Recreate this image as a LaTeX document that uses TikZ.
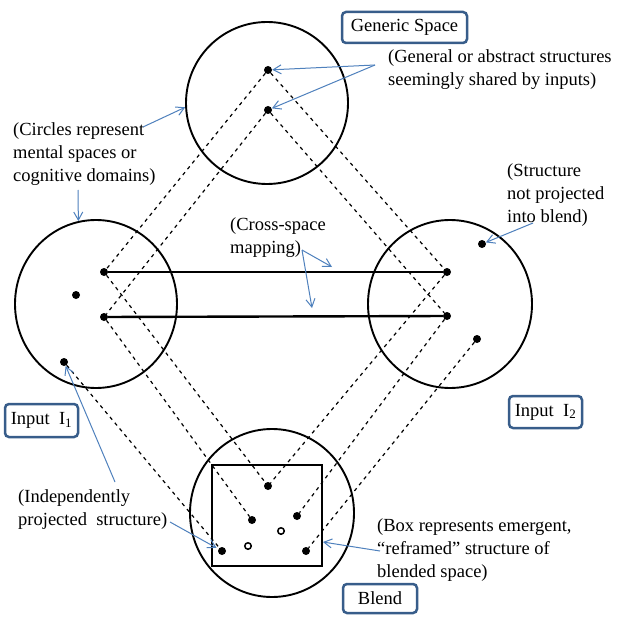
\documentclass[tikz,border=0pt]{standalone}
\usepackage{fontspec}
\setmainfont{Liberation Serif}
\usetikzlibrary{shapes.geometric,arrows.meta}
\definecolor{arrowblue}{RGB}{79,129,189}
\definecolor{boxblue}{RGB}{56,93,138}
\begin{document}
\begin{tikzpicture}[x=1pt,y=-1pt,
  space/.style={draw,ellipse,line width=1.9pt,inner sep=0pt},
  dot/.style={circle,fill,inner sep=0pt,minimum size=8pt},
  odot/.style={circle,draw,line width=1.5pt,fill=white,inner sep=0pt,minimum size=6.5pt},
  proj/.style={dash pattern=on 3.5pt off 4pt,line width=1.2pt},
  map/.style={line width=2.4pt},
  note/.style={font=\fontsize{18.5}{23}\selectfont,align=left,anchor=base west,inner sep=0pt},
  tagbox/.style={draw=boxblue,line width=2.5pt,rounded corners=4pt,font=\fontsize{18.5}{22}\selectfont,inner sep=0pt},
  pointer/.style={draw=arrowblue,line width=1pt,-{Straight Barb[length=8pt,width=9pt]}}
]
\useasboundingbox[fill=white] (0,0) rectangle (617,617);

% spaces
\node[space,minimum width=162pt,minimum height=162pt] (gen) at (267,103) {};
\node[space,minimum width=162pt,minimum height=168pt] (inp1) at (96,304) {};
\node[space,minimum width=164pt,minimum height=168pt] (inp2) at (450,304) {};
\node[space,minimum width=164pt,minimum height=168pt] (bl) at (272,513) {};
\node[draw,line width=1.9pt,minimum width=110pt,minimum height=101pt,inner sep=0pt] (box) at (267,515.5) {};

% dots
\node[dot] (g1) at (268,70) {};
\node[dot] (g2) at (268,110) {};
\node[dot] (l1) at (104,272) {};
\node[dot] (l2) at (76,295) {};
\node[dot] (l3) at (104,317) {};
\node[dot] (l4) at (64,362) {};
\node[dot] (r1) at (447,272) {};
\node[dot] (r2) at (447,316) {};
\node[dot] (r3) at (482,244) {};
\node[dot] (r4) at (477,339) {};
\node[dot] (b1) at (268,486) {};
\node[dot] (b2) at (252,520) {};
\node[dot] (b3) at (297,516) {};
\node[odot] (o1) at (281,531) {};
\node[odot] (o2) at (248,546) {};
\node[dot] (b4) at (222,551) {};
\node[dot] (b5) at (306,551) {};

% projections
\draw[proj] (g1) -- (l1);
\draw[proj] (g1) -- (r1);
\draw[proj] (g2) -- (l3);
\draw[proj] (g2) -- (r2);
\draw[proj] (l1) -- (b1);
\draw[proj] (l3) -- (b2);
\draw[proj] (l4) -- (b4);
\draw[proj] (r1) -- (b1);
\draw[proj] (r2) -- (b3);
\draw[proj] (r4) -- (b5);

% cross-space mapping
\draw[map] (l1) -- (r1);
\draw[map] (l3) -- (r2);

% labels
\node[tagbox,minimum width=125pt,minimum height=31pt] (tgen) at (404.5,27.5) {Generic Space};
\node[tagbox,minimum width=73pt,minimum height=33pt] (tin1) at (41.5,420.5) {Input\ \ I\textsubscript{1}};
\node[tagbox,minimum width=73pt,minimum height=32pt] (tin2) at (545.5,412) {Input\ \ I\textsubscript{2}};
\node[tagbox,minimum width=74pt,minimum height=29pt] (tbl) at (380,598.5) {Blend};

% notes (anchor = baseline of last line)
\node[note] (ngen) at (388,86) {(General or abstract structures\\seemingly shared by inputs)};
\node[note] (ncirc) at (13,182) {(Circles represent\\mental spaces or\\cognitive domains)};
\node[note] (nstr) at (507,223) {(Structure\\not projected\\into blend)};
\node[note] (ncross) at (230,253) {(Cross-space\\mapping)};
\node[note] (nind) at (18,525) {(Independently\\projected\ \ structure)};
\node[note] (nbox) at (377,577) {(Box represents emergent,\\“reframed” structure of\\blended space)};

% pointers
\coordinate (pgen) at (375,65);
\draw[pointer] (pgen) -- (g1);
\draw[pointer] (pgen) -- (g2);
\coordinate (pcirc1) at (143,127);
\draw[pointer] (pcirc1) -- (gen.183);
\coordinate (pcirc2) at (78,190);
\draw[pointer] (pcirc2) -- (inp1.102);
\coordinate (pstr) at (533,223);
\draw[pointer] (pstr) -- (r3);
\coordinate (pcross) at (302,250);
\coordinate (tc1) at (332,267);
\coordinate (tc2) at (312,308);
\draw[pointer] (pcross) -- (tc1);
\draw[pointer] (pcross) -- (tc2);
\coordinate (pind1) at (115,482);
\draw[pointer] (pind1) -- (l4);
\coordinate (pind2) at (170,522);
\draw[pointer,shorten >=2pt] (pind2) -- (b4);
\coordinate (pbox) at (380,551);
\draw[pointer] (pbox) -- ([yshift=-26.5pt]box.east);
\end{tikzpicture}
\end{document}
